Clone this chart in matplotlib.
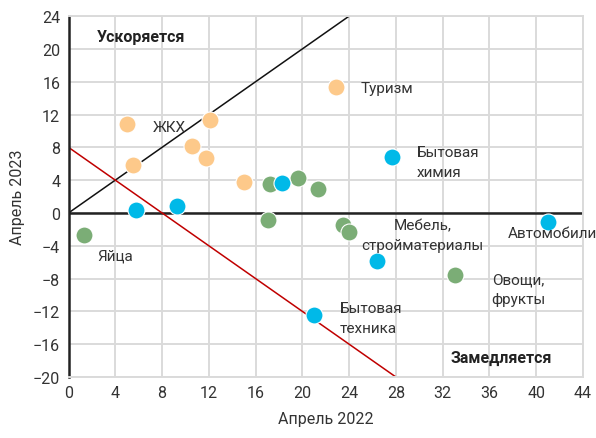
import matplotlib
matplotlib.use("Agg")
import matplotlib.pyplot as plt
import numpy as np

plt.rcParams['font.family'] = ['Roboto', 'DejaVu Sans']

# Data (April 2022 vs April 2023)
orange_x = [5.0, 5.5, 10.6, 12.1, 11.8, 15.0, 22.9]
orange_y = [10.9, 5.9, 8.2, 11.3, 6.7, 3.8, 15.4]
blue_x = [5.8, 9.3, 18.3, 27.7, 41.0, 26.4, 21.0]
blue_y = [0.3, 0.9, 3.6, 6.8, -1.1, -5.8, -12.4]
green_x = [1.3, 17.2, 19.6, 21.3, 17.1, 23.5, 24.0, 33.1]
green_y = [-2.7, 3.5, 4.3, 2.9, -0.8, -1.5, -2.3, -7.6]

xticks = list(range(0, 45, 4))
yticks = list(range(-20, 25, 4))

labels = [
    ("ЖКХ", 7.2, 10.5, 'left'),
    ("Туризм", 25.0, 15.2, 'left'),
    ("Бытовая\nхимия", 29.8, 6.2, 'left'),
    ("Мебель,\nстройматериалы", 30.3, -2.7, 'center'),
    ("Автомобили", 37.6, -2.4, 'left'),
    ("Овощи,\nфрукты", 36.2, -9.3, 'left'),
    ("Бытовая\nтехника", 23.2, -12.8, 'left'),
    ("Яйца", 2.5, -5.2, 'left'),
]

c_orange = '#FDC98A'
c_blue = '#00B9E8'
c_green = '#7BAD76'

fig = plt.figure(figsize=(5.96, 4.39), dpi=100)
ax = fig.add_axes([0.115, 0.139, 0.863, 0.822])

ax.set_xlim(0, 44)
ax.set_ylim(-20, 24)
ax.set_xticks(xticks)
ax.set_yticks(yticks)
ax.set_axisbelow(True)
ax.grid(True, color='#DADADA', linewidth=1.4)
for s in ax.spines.values():
    s.set_color('#DADADA')
    s.set_linewidth(1.4)
ax.spines['left'].set_color('#222222')
ax.spines['left'].set_linewidth(1.8)
ax.spines['left'].set_zorder(2.5)
ax.axhline(0, color='#222222', linewidth=1.8, zorder=2)
ax.tick_params(length=0, labelsize=11.5, colors='#333333', pad=6)

# reference lines
lx = np.array([0, 44])
ax.plot(lx, lx, color='#111111', linewidth=1.1, zorder=2)
ax.plot(lx, 8 - lx, color='#C00000', linewidth=1.1, zorder=2)

kw = dict(s=150, edgecolors='white', linewidths=0.8, zorder=3, clip_on=False)
ax.scatter(orange_x, orange_y, color=c_orange, **kw)
ax.scatter(green_x, green_y, color=c_green, **kw)
ax.scatter(blue_x, blue_y, color=c_blue, **kw)

for t, x, y, ha in labels:
    ax.text(x, y, t, ha=ha, va='center', fontsize=11, color='#333333',
            linespacing=1.5, zorder=4, clip_on=False)

ax.text(2.4, 21.5, "Ускоряется", fontsize=11.5, fontweight='bold', color='#222222', va='center')
ax.text(32.7, -17.6, "Замедляется", fontsize=11.5, fontweight='bold', color='#222222', va='center')

ax.set_xlabel("Апрель 2022", fontsize=11.5, color='#333333', labelpad=8)
ax.set_ylabel("Апрель 2023", fontsize=11.5, color='#333333', labelpad=6)

fig.savefig("out.png", dpi=100)
